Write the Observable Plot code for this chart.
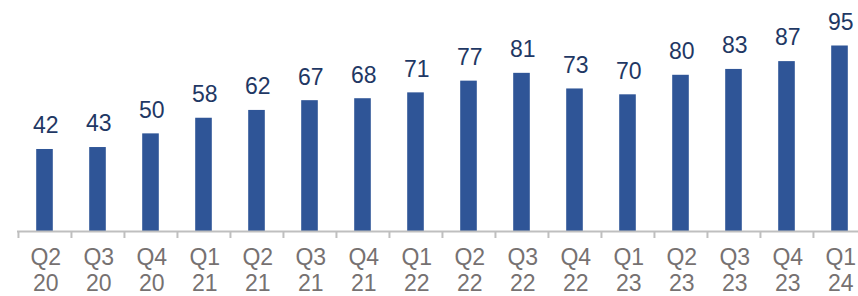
<!DOCTYPE html>
<html>
<head>
<meta charset="utf-8">
<script src="https://cdn.jsdelivr.net/npm/d3@7"></script>
<script src="https://cdn.jsdelivr.net/npm/@observablehq/plot@0.6"></script>
<style>
  html, body { margin: 0; padding: 0; background: #fff; }
  #chart svg { display: block; overflow: hidden; }
</style>
</head>
<body>
<div id="chart"></div>
<script>
const quarters = ["Q2\n20","Q3\n20","Q4\n20","Q1\n21","Q2\n21","Q3\n21","Q4\n21","Q1\n22","Q2\n22","Q3\n22","Q4\n22","Q1\n23","Q2\n23","Q3\n23","Q4\n23","Q1\n24"];
const values = [42,43,50,58,62,67,68,71,77,81,73,70,80,83,87,95];

const data = quarters.map((q, i) => ({q, v: values[i]}));
const step = (866.6 - 17) / quarters.length;

const chart = Plot.plot({
  width: 858,
  height: 296,
  marginTop: 0,
  marginBottom: 65,
  marginLeft: 17,
  marginRight: 0,
  style: {fontFamily: "'Liberation Sans', Arial, sans-serif", background: "#fff"},
  x: {domain: quarters, range: [17, 866.6], padding: 0, axis: null, label: null},
  y: {domain: [0, 118.3], range: [231, 0], axis: null, label: null},
  marks: [
    Plot.barY(data, {x: "q", y: "v", fill: "#2F5597", insetLeft: 18.2, insetRight: 18.2}),
    Plot.text(data, {x: "q", y: "v", text: d => String(d.v), dy: -23.5, dx: 0.8, fontSize: 23, fill: "#1F3864"}),
    Plot.ruleY([0], {stroke: "#BFBFBF", strokeWidth: 2}),
    Plot.axisX({tickSize: 7, stroke: "#BFBFBF", strokeWidth: 2, dx: -step / 2, tickFormat: () => "", tickPadding: 0, label: null}),
    Plot.axisX({tickSize: 0, tickPadding: 14.8, fontSize: 23, lineHeight: 1.13, fill: "#767171", dx: 0.8, label: null})
  ]
});
document.getElementById("chart").appendChild(chart);
</script>
</body>
</html>
